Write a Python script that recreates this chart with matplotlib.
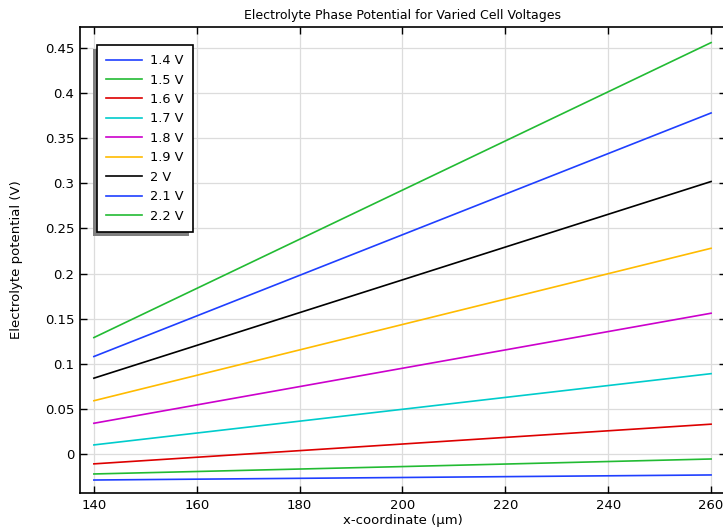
import numpy as np
import matplotlib
matplotlib.use("Agg")
import matplotlib.pyplot as plt
from matplotlib.patches import Rectangle

# data (x in um, potential in V)
x_um = [140, 200, 260]
labels = ["1.4 V", "1.5 V", "1.6 V", "1.7 V", "1.8 V", "1.9 V", "2 V", "2.1 V", "2.2 V"]
phi_14 = [-0.0289, -0.0261, -0.0233]
phi_15 = [-0.0222, -0.0140, -0.0056]
phi_16 = [-0.0110, 0.0110, 0.0330]
phi_17 = [0.0100, 0.0495, 0.0890]
phi_18 = [0.0340, 0.0950, 0.1560]
phi_19 = [0.0590, 0.1435, 0.2280]
phi_20 = [0.0840, 0.1930, 0.3020]
phi_21 = [0.1080, 0.2430, 0.3780]
phi_22 = [0.1290, 0.2925, 0.4560]
series = [phi_14, phi_15, phi_16, phi_17, phi_18, phi_19, phi_20, phi_21, phi_22]
colors = ["#1f3fff", "#22bb33", "#dd0000", "#00cccc", "#cc00cc",
          "#ffbb00", "#000000", "#1f3fff", "#22bb33"]

xticks = [140, 160, 180, 200, 220, 240, 260]
yticks = [0, 0.05, 0.1, 0.15, 0.2, 0.25, 0.3, 0.35, 0.4, 0.45]
ytick_labels = ["0", "0.05", "0.1", "0.15", "0.2", "0.25", "0.3", "0.35", "0.4", "0.45"]

plt.rcParams['font.family'] = ['DejaVu Sans']
fig = plt.figure(figsize=(7.23, 5.30), dpi=100)
ax = fig.add_axes([80 / 723, 1 - 493 / 530, 646 / 723, 466 / 530])

for ys, c, lab in zip(series, colors, labels):
    ax.plot(x_um, ys, color=c, lw=1.2, label=lab)

ax.set_xlim(137.3, 262.9)
ax.set_ylim(-0.0433, 0.4733)
ax.set_xticks(xticks)
ax.set_yticks(yticks)
ax.set_yticklabels(ytick_labels)
ax.grid(True, color="#dcdcdc", lw=0.9)
ax.set_axisbelow(True)
ax.tick_params(direction="in", length=5, width=1, top=True, right=True,
               labelsize=9.5, pad=4)
for s in ax.spines.values():
    s.set_linewidth(1.2)

ax.set_title("Electrolyte Phase Potential for Varied Cell Voltages", fontsize=9, pad=6)
ax.set_xlabel("x-coordinate (µm)", fontsize=9.5, labelpad=2)
ax.set_ylabel("Electrolyte potential (V)", fontsize=9.5, labelpad=16)

leg = ax.legend(loc="upper left", bbox_to_anchor=(17 / 646, 1 - 18 / 466),
                fontsize=9.3, frameon=True, fancybox=False, edgecolor="black",
                framealpha=1, borderpad=0.7, labelspacing=0.5,
                handlelength=2.8, handletextpad=0.6, borderaxespad=0)
leg.get_frame().set_linewidth(1.2)
leg.set_zorder(6)

# grey drop shadow, offset down-left like the original
fig.canvas.draw()
bb = leg.get_window_extent()
shadow = Rectangle((bb.x0 - 4, bb.y0 - 4), bb.width, bb.height,
                   transform=None, facecolor="#808080", edgecolor="none", zorder=5)
ax.add_artist(shadow)

fig.savefig("out.png", dpi=100)
